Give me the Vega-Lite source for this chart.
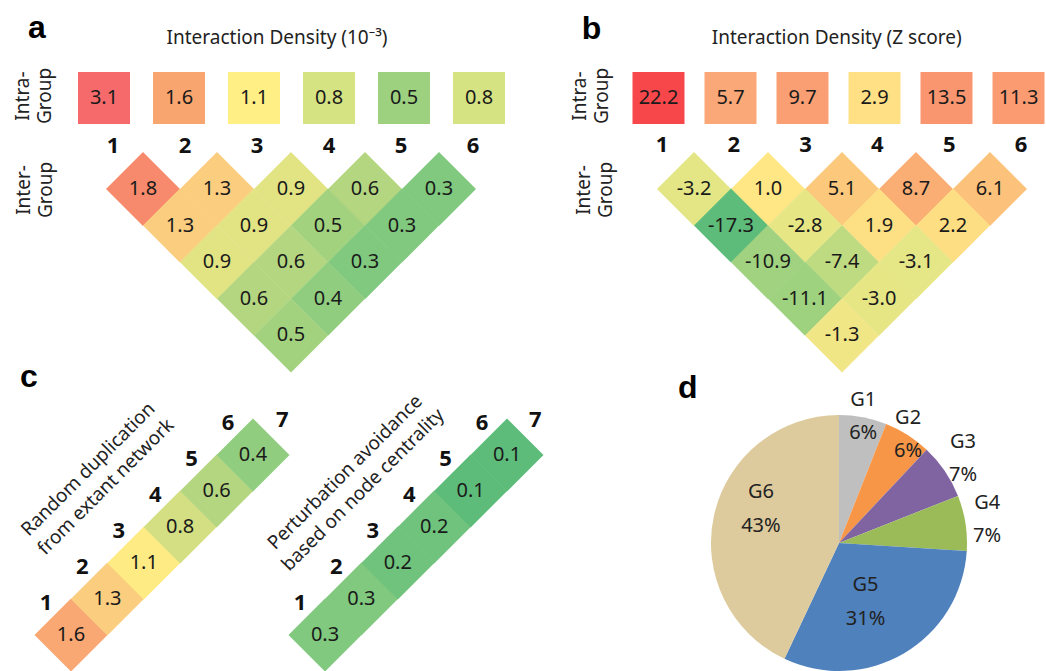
{
  "$schema": "https://vega.github.io/schema/vega-lite/v6.json",
  "padding": 0,
  "autosize": {"type": "pad"},
  "background": "white",
  "spacing": 0,
  "bounds": "flush",
  "columns": 2,
  "align": "none",
  "config": {
    "view": {"stroke": null},
    "font": "Noto Sans",
    "locale": {"number": {"decimal": ".", "thousands": ",", "grouping": [3], "currency": ["$", ""], "minus": "-"}}
  },
  "datasets": {
    "intraA": [{"g": 1, "v": 3.1}, {"g": 2, "v": 1.6}, {"g": 3, "v": 1.1}, {"g": 4, "v": 0.8}, {"g": 5, "v": 0.5}, {"g": 6, "v": 0.8}],
    "interA": [
      {"i": 1, "j": 2, "v": 1.8}, {"i": 2, "j": 3, "v": 1.3}, {"i": 3, "j": 4, "v": 0.9}, {"i": 4, "j": 5, "v": 0.6}, {"i": 5, "j": 6, "v": 0.3},
      {"i": 1, "j": 3, "v": 1.3}, {"i": 2, "j": 4, "v": 0.9}, {"i": 3, "j": 5, "v": 0.5}, {"i": 4, "j": 6, "v": 0.3},
      {"i": 1, "j": 4, "v": 0.9}, {"i": 2, "j": 5, "v": 0.6}, {"i": 3, "j": 6, "v": 0.3},
      {"i": 1, "j": 5, "v": 0.6}, {"i": 2, "j": 6, "v": 0.4},
      {"i": 1, "j": 6, "v": 0.5}
    ],
    "intraB": [{"g": 1, "v": 22.2}, {"g": 2, "v": 5.7}, {"g": 3, "v": 9.7}, {"g": 4, "v": 2.9}, {"g": 5, "v": 13.5}, {"g": 6, "v": 11.3}],
    "interB": [
      {"i": 1, "j": 2, "v": -3.2}, {"i": 2, "j": 3, "v": 1.0}, {"i": 3, "j": 4, "v": 5.1}, {"i": 4, "j": 5, "v": 8.7}, {"i": 5, "j": 6, "v": 6.1},
      {"i": 1, "j": 3, "v": -17.3}, {"i": 2, "j": 4, "v": -2.8}, {"i": 3, "j": 5, "v": 1.9}, {"i": 4, "j": 6, "v": 2.2},
      {"i": 1, "j": 4, "v": -10.9}, {"i": 2, "j": 5, "v": -7.4}, {"i": 3, "j": 6, "v": -3.1},
      {"i": 1, "j": 5, "v": -11.1}, {"i": 2, "j": 6, "v": -3.0},
      {"i": 1, "j": 6, "v": -1.3}
    ],
    "stripR": [{"k": 1, "v": 1.6}, {"k": 2, "v": 1.3}, {"k": 3, "v": 1.1}, {"k": 4, "v": 0.8}, {"k": 5, "v": 0.6}, {"k": 6, "v": 0.4}],
    "stripP": [{"k": 1, "v": 0.3}, {"k": 2, "v": 0.3}, {"k": 3, "v": 0.2}, {"k": 4, "v": 0.2}, {"k": 5, "v": 0.1}, {"k": 6, "v": 0.1}],
    "pie": [
      {"idx": 1, "group": "G1", "pct": 6, "label": "G1\n6%"},
      {"idx": 2, "group": "G2", "pct": 6, "label": "G2\n6%"},
      {"idx": 3, "group": "G3", "pct": 7, "label": "G3\n7%"},
      {"idx": 4, "group": "G4", "pct": 7, "label": "G4\n7%"},
      {"idx": 5, "group": "G5", "pct": 31, "label": "G5\n31%"},
      {"idx": 6, "group": "G6", "pct": 43, "label": "G6\n43%"}
    ]
  },
  "concat": [
    {
      "width": 632, "height": 415,
      "resolve": {"scale": {"x": "independent", "color": "independent"}},
      "layer": [
        {
          "data": {"name": "intraA"},
          "mark": {"type": "point", "shape": "square", "filled": true, "size": 2704, "opacity": 1, "strokeWidth": 0},
          "encoding": {
            "x": {"field": "g", "type": "quantitative", "scale": {"domain": [-0.38667, 8.04], "nice": false, "zero": false}, "axis": null},
            "y": {"datum": -1.486, "type": "quantitative", "scale": {"domain": [-4.164, 7.175], "reverse": true, "nice": false, "zero": false}, "axis": null},
            "color": {"field": "v", "type": "quantitative", "scale": {"domain": [0.5, 0.8, 1.1, 1.6, 3.1], "range": ["#9DD17F", "#D6E383", "#FFEF85", "#F9A56F", "#F66A6C"], "interpolate": "rgb"}, "legend": null}
          }
        },
        {
          "data": {"name": "intraA"},
          "mark": {"type": "text", "fontSize": 20, "color": "#1a1a1a", "align": "center", "baseline": "middle"},
          "encoding": {
            "x": {"field": "g", "type": "quantitative", "scale": {"domain": [-0.38667, 8.04], "nice": false, "zero": false}, "axis": null},
            "y": {"datum": -1.486, "type": "quantitative", "scale": {"domain": [-4.164, 7.175], "reverse": true, "nice": false, "zero": false}, "axis": null},
            "text": {"field": "v", "type": "quantitative", "format": ".1f"}
          }
        },
        {
          "data": {"name": "intraA"},
          "mark": {"type": "text", "fontSize": 22, "fontWeight": "bold", "color": "#111", "align": "center", "baseline": "middle"},
          "encoding": {
            "x": {"field": "g", "type": "quantitative", "scale": {"domain": [-0.5694, 8.2084], "nice": false, "zero": false}, "axis": null},
            "y": {"datum": -0.175, "type": "quantitative", "scale": {"domain": [-4.164, 7.175], "reverse": true, "nice": false, "zero": false}, "axis": null},
            "text": {"field": "g", "type": "nominal"}
          }
        },
        {
          "data": {"name": "interA"},
          "transform": [{"calculate": "(datum.i + datum.j) / 2", "as": "mid"}, {"calculate": "datum.j - datum.i", "as": "sep"}],
          "mark": {"type": "point", "shape": "diamond", "filled": true, "size": 5476, "opacity": 1, "strokeWidth": 0},
          "encoding": {
            "x": {"field": "mid", "type": "quantitative", "scale": {"domain": [-0.4324, 8.1081], "nice": false, "zero": false}, "axis": null},
            "y": {"field": "sep", "type": "quantitative", "scale": {"domain": [-4.164, 7.175], "reverse": true, "nice": false, "zero": false}, "axis": null},
            "color": {"field": "v", "type": "quantitative", "scale": {"domain": [0.1, 0.3, 0.6, 0.9, 1.1, 1.3, 1.6, 1.8], "range": ["#5EBC7A", "#80C97E", "#B4D680", "#E2E483", "#FFEB84", "#FBCD7F", "#F9A874", "#F78A6C"], "interpolate": "rgb"}, "legend": null}
          }
        },
        {
          "data": {"name": "interA"},
          "transform": [{"calculate": "(datum.i + datum.j) / 2", "as": "mid"}, {"calculate": "datum.j - datum.i", "as": "sep"}],
          "mark": {"type": "text", "fontSize": 20, "color": "#1a1a1a", "align": "center", "baseline": "middle"},
          "encoding": {
            "x": {"field": "mid", "type": "quantitative", "scale": {"domain": [-0.4324, 8.1081], "nice": false, "zero": false}, "axis": null},
            "y": {"field": "sep", "type": "quantitative", "scale": {"domain": [-4.164, 7.175], "reverse": true, "nice": false, "zero": false}, "axis": null},
            "text": {"field": "v", "type": "quantitative", "format": ".1f"}
          }
        },
        {
          "data": {"values": [{"label": "Interaction Density (10⁻³)"}]},
          "mark": {"type": "text", "fontSize": 19, "color": "#222", "align": "center", "baseline": "middle"},
          "encoding": {
            "x": {"datum": 3.3108, "type": "quantitative", "scale": {"domain": [-0.4324, 8.1081], "nice": false, "zero": false}, "axis": null},
            "y": {"datum": -3.126, "type": "quantitative", "scale": {"domain": [-4.164, 7.175], "reverse": true, "nice": false, "zero": false}, "axis": null},
            "text": {"field": "label"}
          }
        },
        {
          "data": {"values": [{"label": "a"}]},
          "mark": {"type": "text", "fontSize": 32, "fontWeight": "bold", "font": "Liberation Sans", "color": "#000", "align": "left", "baseline": "alphabetic"},
          "encoding": {
            "x": {"datum": -0.054, "type": "quantitative", "scale": {"domain": [-0.4324, 8.1081], "nice": false, "zero": false}, "axis": null},
            "y": {"datum": -3.139, "type": "quantitative", "scale": {"domain": [-4.164, 7.175], "reverse": true, "nice": false, "zero": false}, "axis": null},
            "text": {"field": "label"}
          }
        },
        {
          "data": {"values": [{"label": "Intra-\nGroup"}]},
          "mark": {"type": "text", "fontSize": 19, "color": "#222", "align": "center", "baseline": "middle", "angle": 270, "lineBreak": "\n", "lineHeight": 22, "dy": -11},
          "encoding": {
            "x": {"datum": 0.0271, "type": "quantitative", "scale": {"domain": [-0.4324, 8.1081], "nice": false, "zero": false}, "axis": null},
            "y": {"datum": -1.541, "type": "quantitative", "scale": {"domain": [-4.164, 7.175], "reverse": true, "nice": false, "zero": false}, "axis": null},
            "text": {"field": "label"}
          }
        },
        {
          "data": {"values": [{"label": "Inter-\nGroup"}]},
          "mark": {"type": "text", "fontSize": 19, "color": "#222", "align": "center", "baseline": "middle", "angle": 270, "lineBreak": "\n", "lineHeight": 22, "dy": -11},
          "encoding": {
            "x": {"datum": 0.0406, "type": "quantitative", "scale": {"domain": [-0.4324, 8.1081], "nice": false, "zero": false}, "axis": null},
            "y": {"datum": 1.027, "type": "quantitative", "scale": {"domain": [-4.164, 7.175], "reverse": true, "nice": false, "zero": false}, "axis": null},
            "text": {"field": "label"}
          }
        }
      ]
    },
    {
      "width": 414, "height": 415,
      "resolve": {"scale": {"x": "independent", "color": "independent"}},
      "layer": [
        {
          "data": {"name": "intraB"},
          "mark": {"type": "point", "shape": "square", "filled": true, "size": 2704, "opacity": 1, "strokeWidth": 0},
          "encoding": {
            "x": {"field": "g", "type": "quantitative", "scale": {"domain": [0.6319, 6.3819], "nice": false, "zero": false}, "axis": null},
            "y": {"datum": -1.486, "type": "quantitative", "scale": {"domain": [-4.164, 7.175], "reverse": true, "nice": false, "zero": false}, "axis": null},
            "color": {"field": "v", "type": "quantitative", "scale": {"domain": [2.9, 5.7, 13.5, 22.2], "range": ["#FFE084", "#FBA878", "#F99670", "#F8474A"], "interpolate": "rgb"}, "legend": null}
          }
        },
        {
          "data": {"name": "intraB"},
          "mark": {"type": "text", "fontSize": 20, "color": "#1a1a1a", "align": "center", "baseline": "middle"},
          "encoding": {
            "x": {"field": "g", "type": "quantitative", "scale": {"domain": [0.6319, 6.3819], "nice": false, "zero": false}, "axis": null},
            "y": {"datum": -1.486, "type": "quantitative", "scale": {"domain": [-4.164, 7.175], "reverse": true, "nice": false, "zero": false}, "axis": null},
            "text": {"field": "v", "type": "quantitative", "format": ".1f"}
          }
        },
        {
          "data": {"name": "intraB"},
          "mark": {"type": "text", "fontSize": 22, "fontWeight": "bold", "color": "#111", "align": "center", "baseline": "middle"},
          "encoding": {
            "x": {"field": "g", "type": "quantitative", "scale": {"domain": [0.5822, 6.3482], "nice": false, "zero": false}, "axis": null},
            "y": {"datum": -0.2, "type": "quantitative", "scale": {"domain": [-4.164, 7.175], "reverse": true, "nice": false, "zero": false}, "axis": null},
            "text": {"field": "g", "type": "nominal"}
          }
        },
        {
          "data": {"name": "interB"},
          "transform": [{"calculate": "(datum.i + datum.j) / 2", "as": "mid"}, {"calculate": "datum.j - datum.i", "as": "sep"}],
          "mark": {"type": "point", "shape": "diamond", "filled": true, "size": 5476, "opacity": 1, "strokeWidth": 0},
          "encoding": {
            "x": {"field": "mid", "type": "quantitative", "scale": {"domain": [0.6622, 6.2568], "nice": false, "zero": false}, "axis": null},
            "y": {"field": "sep", "type": "quantitative", "scale": {"domain": [-4.164, 7.175], "reverse": true, "nice": false, "zero": false}, "axis": null},
            "color": {"field": "v", "type": "quantitative", "scale": {"domain": [-17.3, -11, -3, 1.0, 8.7], "range": ["#5DBC79", "#9FD27F", "#E6E685", "#FFE786", "#FAAE74"], "interpolate": "rgb"}, "legend": null}
          }
        },
        {
          "data": {"name": "interB"},
          "transform": [{"calculate": "(datum.i + datum.j) / 2", "as": "mid"}, {"calculate": "datum.j - datum.i", "as": "sep"}],
          "mark": {"type": "text", "fontSize": 20, "color": "#1a1a1a", "align": "center", "baseline": "middle"},
          "encoding": {
            "x": {"field": "mid", "type": "quantitative", "scale": {"domain": [0.6622, 6.2568], "nice": false, "zero": false}, "axis": null},
            "y": {"field": "sep", "type": "quantitative", "scale": {"domain": [-4.164, 7.175], "reverse": true, "nice": false, "zero": false}, "axis": null},
            "text": {"field": "v", "type": "quantitative", "format": ".1f"}
          }
        },
        {
          "data": {"values": [{"label": "Interaction Density (Z score)"}]},
          "mark": {"type": "text", "fontSize": 19, "color": "#222", "align": "center", "baseline": "middle"},
          "encoding": {
            "x": {"datum": 3.4284, "type": "quantitative", "scale": {"domain": [0.6622, 6.2568], "nice": false, "zero": false}, "axis": null},
            "y": {"datum": -3.126, "type": "quantitative", "scale": {"domain": [-4.164, 7.175], "reverse": true, "nice": false, "zero": false}, "axis": null},
            "text": {"field": "label"}
          }
        },
        {
          "data": {"values": [{"label": "b"}]},
          "mark": {"type": "text", "fontSize": 32, "fontWeight": "bold", "font": "Liberation Sans", "color": "#000", "align": "left", "baseline": "alphabetic"},
          "encoding": {
            "x": {"datum": -0.0175, "type": "quantitative", "scale": {"domain": [0.6622, 6.2568], "nice": false, "zero": false}, "axis": null},
            "y": {"datum": -3.098, "type": "quantitative", "scale": {"domain": [-4.164, 7.175], "reverse": true, "nice": false, "zero": false}, "axis": null},
            "text": {"field": "label"}
          }
        },
        {
          "data": {"values": [{"label": "Intra-\nGroup"}]},
          "mark": {"type": "text", "fontSize": 19, "color": "#222", "align": "center", "baseline": "middle", "angle": 270, "lineBreak": "\n", "lineHeight": 22, "dy": -11},
          "encoding": {
            "x": {"datum": 0.1081, "type": "quantitative", "scale": {"domain": [0.6622, 6.2568], "nice": false, "zero": false}, "axis": null},
            "y": {"datum": -1.541, "type": "quantitative", "scale": {"domain": [-4.164, 7.175], "reverse": true, "nice": false, "zero": false}, "axis": null},
            "text": {"field": "label"}
          }
        },
        {
          "data": {"values": [{"label": "Inter-\nGroup"}]},
          "mark": {"type": "text", "fontSize": 19, "color": "#222", "align": "center", "baseline": "middle", "angle": 270, "lineBreak": "\n", "lineHeight": 22, "dy": -11},
          "encoding": {
            "x": {"datum": 0.1622, "type": "quantitative", "scale": {"domain": [0.6622, 6.2568], "nice": false, "zero": false}, "axis": null},
            "y": {"datum": 1.027, "type": "quantitative", "scale": {"domain": [-4.164, 7.175], "reverse": true, "nice": false, "zero": false}, "axis": null},
            "text": {"field": "label"}
          }
        }
      ]
    },
    {
      "width": 632, "height": 256,
      "resolve": {"scale": {"x": "independent", "color": "independent"}},
      "layer": [
        {
          "data": {"name": "stripR"},
          "mark": {"type": "point", "shape": "diamond", "filled": true, "size": 5330, "opacity": 1, "strokeWidth": 0},
          "encoding": {
            "x": {"field": "k", "type": "quantitative", "scale": {"domain": [-0.9505, 16.4121], "nice": false, "zero": false}, "axis": null},
            "y": {"field": "k", "type": "quantitative", "scale": {"domain": [0, 7.111], "nice": false, "zero": false}, "axis": null},
            "color": {"field": "v", "type": "quantitative", "scale": {"domain": [0.1, 0.3, 0.6, 0.9, 1.1, 1.3, 1.6, 1.8], "range": ["#5EBC7A", "#80C97E", "#B4D680", "#E2E483", "#FFEB84", "#FBCD7F", "#F9A874", "#F78A6C"], "interpolate": "rgb"}, "legend": null}
          }
        },
        {
          "data": {"name": "stripR"},
          "mark": {"type": "text", "fontSize": 20, "color": "#1a1a1a", "align": "center", "baseline": "middle"},
          "encoding": {
            "x": {"field": "k", "type": "quantitative", "scale": {"domain": [-0.9505, 16.4121], "nice": false, "zero": false}, "axis": null},
            "y": {"field": "k", "type": "quantitative", "scale": {"domain": [0, 7.111], "nice": false, "zero": false}, "axis": null},
            "text": {"field": "v", "type": "quantitative", "format": ".1f"}
          }
        },
        {
          "data": {"name": "stripR"},
          "mark": {"type": "text", "fontSize": 22, "fontWeight": "bold", "color": "#111", "align": "center", "baseline": "middle", "dx": -25, "dy": -32},
          "encoding": {
            "x": {"field": "k", "type": "quantitative", "scale": {"domain": [-0.9505, 16.4121], "nice": false, "zero": false}, "axis": null},
            "y": {"field": "k", "type": "quantitative", "scale": {"domain": [0, 7.111], "nice": false, "zero": false}, "axis": null},
            "text": {"field": "k", "type": "nominal"}
          }
        },
        {
          "data": {"values": [{"k": 7}]},
          "mark": {"type": "text", "fontSize": 22, "fontWeight": "bold", "color": "#111", "align": "center", "baseline": "middle", "dx": -7, "dy": 1},
          "encoding": {
            "x": {"field": "k", "type": "quantitative", "scale": {"domain": [-0.9505, 16.4121], "nice": false, "zero": false}, "axis": null},
            "y": {"field": "k", "type": "quantitative", "scale": {"domain": [0, 7.111], "nice": false, "zero": false}, "axis": null},
            "text": {"field": "k", "type": "nominal"}
          }
        },
        {
          "data": {"values": [{"label": "Random duplication\nfrom extant network"}]},
          "mark": {"type": "text", "fontSize": 19, "color": "#222", "align": "center", "baseline": "middle", "angle": 315, "lineBreak": "\n", "lineHeight": 25, "dy": -12.5},
          "encoding": {
            "x": {"datum": 1.714, "type": "quantitative", "scale": {"domain": [-0.9505, 16.4121], "nice": false, "zero": false}, "axis": null},
            "y": {"datum": 5.361, "type": "quantitative", "scale": {"domain": [0, 7.111], "nice": false, "zero": false}, "axis": null},
            "text": {"field": "label"}
          }
        },
        {
          "data": {"values": [{"label": "c"}]},
          "mark": {"type": "text", "fontSize": 32, "fontWeight": "bold", "font": "Liberation Sans", "color": "#000", "align": "left", "baseline": "alphabetic"},
          "encoding": {
            "x": {"datum": -0.4011, "type": "quantitative", "scale": {"domain": [-0.9505, 16.4121], "nice": false, "zero": false}, "axis": null},
            "y": {"datum": 7.889, "type": "quantitative", "scale": {"domain": [0, 7.111], "nice": false, "zero": false}, "axis": null},
            "text": {"field": "label"}
          }
        },
        {
          "data": {"name": "stripP"},
          "mark": {"type": "point", "shape": "diamond", "filled": true, "size": 5330, "opacity": 1, "strokeWidth": 0},
          "encoding": {
            "x": {"field": "k", "type": "quantitative", "scale": {"domain": [-7.9286, 9.434], "nice": false, "zero": false}, "axis": null},
            "y": {"field": "k", "type": "quantitative", "scale": {"domain": [0, 7.111], "nice": false, "zero": false}, "axis": null},
            "color": {"field": "v", "type": "quantitative", "scale": {"domain": [0.1, 0.3, 0.6, 0.9, 1.1, 1.3, 1.6, 1.8], "range": ["#5EBC7A", "#80C97E", "#B4D680", "#E2E483", "#FFEB84", "#FBCD7F", "#F9A874", "#F78A6C"], "interpolate": "rgb"}, "legend": null}
          }
        },
        {
          "data": {"name": "stripP"},
          "mark": {"type": "text", "fontSize": 20, "color": "#1a1a1a", "align": "center", "baseline": "middle"},
          "encoding": {
            "x": {"field": "k", "type": "quantitative", "scale": {"domain": [-7.9286, 9.434], "nice": false, "zero": false}, "axis": null},
            "y": {"field": "k", "type": "quantitative", "scale": {"domain": [0, 7.111], "nice": false, "zero": false}, "axis": null},
            "text": {"field": "v", "type": "quantitative", "format": ".1f"}
          }
        },
        {
          "data": {"name": "stripP"},
          "mark": {"type": "text", "fontSize": 22, "fontWeight": "bold", "color": "#111", "align": "center", "baseline": "middle", "dx": -25, "dy": -32},
          "encoding": {
            "x": {"field": "k", "type": "quantitative", "scale": {"domain": [-7.9286, 9.434], "nice": false, "zero": false}, "axis": null},
            "y": {"field": "k", "type": "quantitative", "scale": {"domain": [0, 7.111], "nice": false, "zero": false}, "axis": null},
            "text": {"field": "k", "type": "nominal"}
          }
        },
        {
          "data": {"values": [{"k": 7}]},
          "mark": {"type": "text", "fontSize": 22, "fontWeight": "bold", "color": "#111", "align": "center", "baseline": "middle", "dx": -8, "dy": 1},
          "encoding": {
            "x": {"field": "k", "type": "quantitative", "scale": {"domain": [-7.9286, 9.434], "nice": false, "zero": false}, "axis": null},
            "y": {"field": "k", "type": "quantitative", "scale": {"domain": [0, 7.111], "nice": false, "zero": false}, "axis": null},
            "text": {"field": "k", "type": "nominal"}
          }
        },
        {
          "data": {"values": [{"label": "Perturbation avoidance\nbased on node centrality"}]},
          "mark": {"type": "text", "fontSize": 19, "color": "#222", "align": "center", "baseline": "middle", "angle": 315, "lineBreak": "\n", "lineHeight": 25, "dy": -12.5},
          "encoding": {
            "x": {"datum": 1.7967, "type": "quantitative", "scale": {"domain": [-7.9286, 9.434], "nice": false, "zero": false}, "axis": null},
            "y": {"datum": 5.278, "type": "quantitative", "scale": {"domain": [0, 7.111], "nice": false, "zero": false}, "axis": null},
            "text": {"field": "label"}
          }
        }
      ]
    },
    {
      "width": 414, "height": 256,
      "layer": [
        {
          "data": {"name": "pie"},
          "mark": {"type": "arc", "outerRadius": 128, "strokeWidth": 0},
          "encoding": {
            "theta": {"field": "pct", "type": "quantitative", "stack": true},
            "order": {"field": "idx", "type": "quantitative"},
            "color": {"field": "group", "type": "nominal", "scale": {"domain": ["G1", "G2", "G3", "G4", "G5", "G6"], "range": ["#BFBFBF", "#F79646", "#8064A2", "#9BBB59", "#4F81BD", "#DECB9D"]}, "legend": null}
          }
        },
        {
          "data": {"name": "pie"},
          "mark": {"type": "text", "radius": 129, "dy": -16.5, "fontSize": 20, "color": "#222", "align": "center", "baseline": "middle", "lineBreak": "\n", "lineHeight": 33},
          "encoding": {
            "theta": {"field": "pct", "type": "quantitative", "stack": true},
            "order": {"field": "idx", "type": "quantitative"},
            "text": {"condition": {"test": "datum.idx <= 2", "field": "label"}, "value": ""}
          }
        },
        {
          "data": {"name": "pie"},
          "mark": {"type": "text", "radius": 150, "dy": -16.5, "fontSize": 20, "color": "#222", "align": "center", "baseline": "middle", "lineBreak": "\n", "lineHeight": 33},
          "encoding": {
            "theta": {"field": "pct", "type": "quantitative", "stack": true},
            "order": {"field": "idx", "type": "quantitative"},
            "text": {"condition": {"test": "datum.idx == 3 || datum.idx == 4", "field": "label"}, "value": ""}
          }
        },
        {
          "data": {"name": "pie"},
          "mark": {"type": "text", "radius": 62, "dx": -5, "dy": -11, "fontSize": 20, "color": "#222", "align": "center", "baseline": "middle", "lineBreak": "\n", "lineHeight": 34},
          "encoding": {
            "theta": {"field": "pct", "type": "quantitative", "stack": true},
            "order": {"field": "idx", "type": "quantitative"},
            "text": {"condition": {"test": "datum.idx == 5", "field": "label"}, "value": ""}
          }
        },
        {
          "data": {"name": "pie"},
          "mark": {"type": "text", "radius": 80, "dy": -34, "fontSize": 20, "color": "#222", "align": "center", "baseline": "middle", "lineBreak": "\n", "lineHeight": 34},
          "encoding": {
            "theta": {"field": "pct", "type": "quantitative", "stack": true},
            "order": {"field": "idx", "type": "quantitative"},
            "text": {"condition": {"test": "datum.idx == 6", "field": "label"}, "value": ""}
          }
        },
        {
          "data": {"values": [{"label": "d"}]},
          "mark": {"type": "text", "fontSize": 32, "fontWeight": "bold", "font": "Liberation Sans", "color": "#000", "align": "left", "baseline": "alphabetic"},
          "encoding": {
            "x": {"datum": -1.2578, "type": "quantitative", "scale": {"domain": [-1.6172, 1.6172], "nice": false, "zero": false}, "axis": null},
            "y": {"datum": 1.1328, "type": "quantitative", "scale": {"domain": [-1, 1], "nice": false, "zero": false}, "axis": null},
            "text": {"field": "label"}
          }
        }
      ]
    }
  ]
}
